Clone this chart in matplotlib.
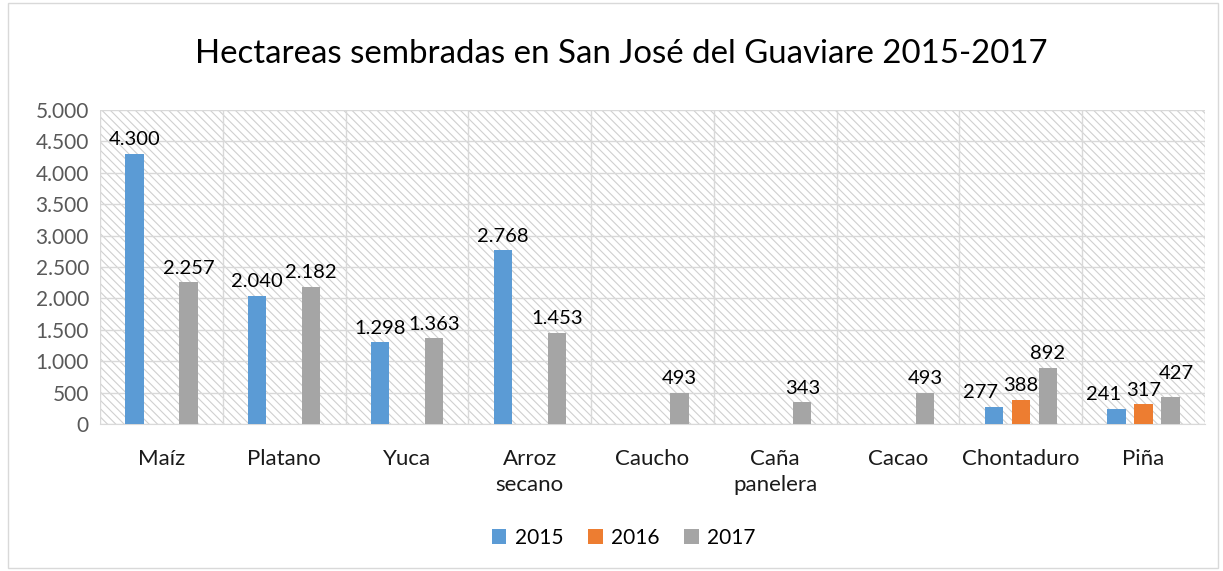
import numpy as np
import matplotlib.pyplot as plt
import matplotlib.patches as patches
from matplotlib.ticker import FuncFormatter, MultipleLocator

plt.rcParams['font.family'] = ['Lato', 'DejaVu Sans']
plt.rcParams['hatch.linewidth'] = 0.8

categories = ['Maíz', 'Platano', 'Yuca', 'Arroz\nsecano', 'Caucho',
              'Caña\npanelera', 'Cacao', 'Chontaduro', 'Piña']
years = ['2015', '2016', '2017']
v2015 = [4300, 2040, 1298, 2768, 0, 0, 0, 277, 241]
v2016 = [0, 0, 0, 0, 0, 0, 0, 388, 317]
v2017 = [2257, 2182, 1363, 1453, 493, 343, 493, 892, 427]
colors = ['#5B9BD5', '#ED7D31', '#A5A5A5']


def fmt_miles(v, pos=None):
    return '{:,.0f}'.format(v).replace(',', '.')


fig = plt.figure(figsize=(12.23, 5.71), dpi=100)
ax = fig.add_axes([100 / 1223, 147 / 571, 1105 / 1223, 314 / 571])

# hatched plot area background
ax.add_patch(patches.Rectangle((0, 0), 1, 1, transform=ax.transAxes,
                               facecolor='white', edgecolor='#D0D0D0',
                               hatch='\\\\\\\\', lw=0, zorder=0))

x = np.arange(len(categories))
w = 0.15
step = 0.22
for i, (vals, c) in enumerate(zip([v2015, v2016, v2017], colors)):
    pos = x + (i - 1) * step
    bars = ax.bar(pos, vals, w, color=c, label=years[i], zorder=3)
    for j, (b, v) in enumerate(zip(bars, vals)):
        if not v:
            continue
        # crowded groups: nudge labels apart like Excel does
        dx, dy, ha = 0, 4, 'center'
        if v2016[j] and i == 0:
            dx, ha = 3, 'right'
        elif v2016[j] and i == 2 and v - v2016[j] < 300:
            dx, dy = 4, 11
        ax.annotate(fmt_miles(v), (b.get_x() + b.get_width() / 2, v),
                    xytext=(dx, dy), textcoords='offset points',
                    ha=ha, va='bottom', fontsize=14.5, color='black',
                    zorder=4)

ax.set_xlim(-0.5, len(categories) - 0.5)
ax.set_ylim(0, 5000)
ax.yaxis.set_major_locator(MultipleLocator(500))
ax.yaxis.set_major_formatter(FuncFormatter(fmt_miles))
ax.set_xticks(x)
ax.set_xticklabels(categories, fontsize=16, color='#1A1A1A', va='top',
                   linespacing=1.35)
ax.set_xticks(np.arange(len(categories) + 1) - 0.5, minor=True)
ax.tick_params(axis='y', labelsize=15, labelcolor='#595959', length=0, pad=8)
ax.tick_params(axis='x', which='both', length=0, pad=18)
ax.grid(axis='y', which='major', color='#D9D9D9', lw=1, zorder=1)
ax.grid(axis='x', which='minor', color='#D9D9D9', lw=1, zorder=1)
ax.set_axisbelow(True)
for s in ['top', 'right', 'left']:
    ax.spines[s].set_visible(False)
ax.spines['bottom'].set_color('#D9D9D9')

fig.text(0.508, 0.905, 'Hectareas sembradas en San José del Guaviare 2015-2017',
         ha='center', va='center', fontsize=23.8, color='black')

fig.legend(loc='center', bbox_to_anchor=(0.51, 0.058), ncol=3, frameon=False,
           fontsize=15, handlelength=0.7, handleheight=0.7, columnspacing=1.2,
           handletextpad=0.4)

fig.add_artist(patches.Rectangle((8 / 1223, 0.005), 1210 / 1223, 0.99,
                                 transform=fig.transFigure, fill=False,
                                 edgecolor='#D9D9D9', lw=1))

fig.savefig('out.png', dpi=100)
